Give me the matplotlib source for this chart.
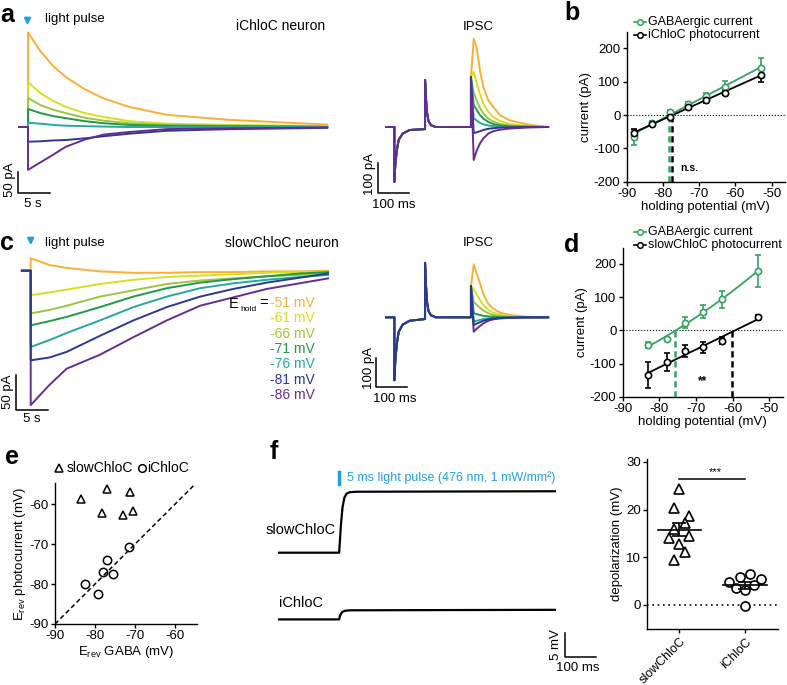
import numpy as np
import matplotlib
matplotlib.use("Agg")
import matplotlib.pyplot as plt

plt.rcParams['font.family'] = ['Liberation Sans', 'DejaVu Sans']
plt.rcParams['mathtext.fontset'] = 'custom'
plt.rcParams['mathtext.rm'] = 'Liberation Sans'
plt.rcParams['axes.unicode_minus'] = False
plt.rcParams['font.size'] = 9.5
plt.rcParams['axes.linewidth'] = 1.0
plt.rcParams['xtick.major.width'] = 1.0
plt.rcParams['ytick.major.width'] = 1.0
plt.rcParams['xtick.major.size'] = 3
plt.rcParams['ytick.major.size'] = 3

W, H = 787, 685
FS = 9.5

# -----------------------
# data
# -----------------------
holds = ['-51 mV', '-61 mV', '-66 mV', '-71 mV', '-76 mV', '-81 mV', '-86 mV']
trace_colors = ['#F8B133', '#D8DF22', '#9DC63F', '#22984A', '#24A8A0', '#2B3990', '#662D91']

# a: iChloC photocurrents, time (s) / current (pA)
a_t = [-1.4, 0, 0, 2, 4, 6, 9, 12, 16, 22, 32, 43, 47.5]
a_I = [
    [0, 0, 225, 180, 145, 119, 90, 68, 48, 29, 17, 9, 6],
    [0, 0, 107, 80, 62, 48, 33, 24, 14, 8, 5, 3, 2],
    [0, 0, 69, 52, 41, 33, 22, 15, 9, 5, 3, 2, 1],
    [0, 0, 43, 33, 26, 21, 14, 9, 5, 3, 2, 1, 0],
    [0, 0, 10, 8, 5, 3, 2, 1, 0, 0, 0, 0, 0],
    [0, 0, -35, -34, -32, -31, -27, -22, -16, -9, -5, -3, -2],
    [0, 0, -102, -84, -66, -47, -30, -18, -12, -5, -3, -2, -1],
]

# c: slowChloC photocurrents
c_t = [-1.4, 0, 0, 3, 5.7, 11, 16.3, 21.6, 26.9, 32.2, 37.5, 42.7, 47.2]
c_I = [
    [0, 0, 18, 8, 4, -1, -3, -3, -2, -2, -1, -1, 0],
    [0, 0, -35, -31, -27, -19, -13, -9, -7, -5, -3, -2, -1],
    [0, 0, -61, -56, -50, -37, -28, -19, -14, -11, -8, -6, -4],
    [0, 0, -78, -72, -66, -52, -37, -25, -17, -12, -8, -4, -2],
    [0, 0, -109, -99, -89, -71, -52, -37, -25, -18, -13, -9, -6],
    [0, 0, -128, -124, -116, -93, -71, -52, -37, -26, -17, -10, -4],
    [0, 0, -192, -163, -140, -120, -95, -71, -50, -38, -26, -18, -11],
]

# IPSC recordings, time (ms) / current (pA)
cap_t = [0, 27, 27, 30, 35, 41, 54, 76, 126, 126, 129, 132, 137, 145, 160, 274]
a_cap_I = [0, 0, -183, -125, -77, -43, -22, -10, -7, 157, 95, 50, 20, 6, 0, 0]
c_cap_I = [0, 0, -217, -150, -90, -50, -25, -12, -6, 188, 110, 55, 22, 7, 0, 0]
stim_t = 274
a_artifact = 167
c_artifact = 108
ipsc_t = [283, 292, 303, 314, 330, 346, 368, 400, 454, 523]
a_ipsc = [
    [294, 267, 189, 133, 89, 67, 39, 22, 9, 0],
    [183, 150, 110, 78, 50, 33, 20, 10, 4, 0],
    [113, 90, 63, 45, 28, 18, 10, 5, 2, 0],
    [73, 58, 40, 28, 17, 10, 5, 2, 1, 0],
    [30, 22, 14, 9, 5, 3, 1, 0, 0, 0],
    [-20, -18, -14, -10, -6, -4, -2, -1, 0, 0],
    [-110, -80, -55, -38, -22, -14, -9, -5, -2, 0],
]
c_ipsc = [
    [183, 152, 118, 80, 46, 30, 16, 8, 2, 0],
    [97, 80, 60, 42, 26, 16, 9, 4, 1, 0],
    [53, 44, 33, 23, 14, 8, 4, 2, 0, 0],
    [14, 11, 8, 5, 3, 2, 1, 0, 0, 0],
    [-15, -12, -9, -6, -4, -2, -1, 0, 0, 0],
    [-27, -22, -17, -12, -7, -4, -2, -1, 0, 0],
    [-50, -40, -30, -21, -12, -7, -4, -2, -1, 0],
]

# b: I-V iChloC
b_v = [-88, -83, -78, -73, -68, -63, -53]
b_gaba = [-67, -23, 10, 33, 57, 83, 142]
b_gaba_err = [22, 5, 6, 6, 8, 20, 30]
b_chloc = [-53, -27, -5, 25, 45, 67, 120]
b_chloc_err = [10, 5, 5, 5, 8, 8, 22]
b_erev = [-78.3, -77.5]

# d: I-V slowChloC
d_v = [-83, -78, -73, -68, -63, -53]
d_gaba = [-44, -27, 23, 56, 93, 180]
d_gaba_err = [8, 5, 17, 20, 25, 48]
d_chloc = [-134, -96, -62, -51, -31, 39]
d_chloc_err = [40, 27, 18, 17, 10, 7]
d_erev = [-75.7, -60.1]

# e: reversal potentials
e_slow_gaba = [-83.5, -77.1, -71.2, -78.2, -72.9, -70.6]
e_slow_photo = [-58.8, -56.3, -56.9, -62.2, -62.7, -61.7]
e_i_gaba = [-71.5, -76.9, -77.9, -75.6, -82.5, -79.3]
e_i_photo = [-70.7, -74.0, -76.9, -77.6, -79.9, -82.4]

# f: current clamp traces, time (ms) / voltage (mV)
f_slow_t = [0, 194, 196, 200, 205, 211, 218, 228, 250, 890]
f_slow_v = [0, 0, 2, 6, 9.5, 11.5, 12.3, 12.6, 12.7, 12.8]
f_i_t = [0, 194, 197, 203, 212, 230, 890]
f_i_v = [0, 0, 0.8, 1.5, 1.8, 1.9, 2.0]

# f: depolarization per cell
f_groups = ['slowChloC', 'iChloC']
f_slow_dep = [24.3, 20.4, 18.7, 17.2, 16.0, 14.0, 14.4, 12.7, 11.0, 9.4]
f_slow_jit = [0, -0.08, 0.15, 0.08, -0.08, -0.16, 0.15, 0, 0.08, -0.08]
f_i_dep = [4.9, 5.9, 6.4, 5.4, 3.5, 3.1, 4.2, -0.2]
f_i_jit = [-0.25, -0.08, 0.08, 0.25, -0.14, 0, 0.13, 0]

green = '#35A262'
blue = '#1DA1E2'

fig = plt.figure(figsize=(W / 100, H / 100), dpi=100)


def px_ax(l, t, r, b):
    return fig.add_axes([l / W, 1 - b / H, (r - l) / W, (b - t) / H])


def trace_ax(box, origin, scale):
    l, t, r, b = box
    ax = px_ax(l, t, r, b)
    ax.set_xlim((l - origin[0]) / scale[0], (r - origin[0]) / scale[0])
    ax.set_ylim((origin[1] - b) / scale[1], (origin[1] - t) / scale[1])
    ax.axis('off')
    return ax


def scalebar(ax, corner, origin, scale, dx, dy):
    x = (corner[0] - origin[0]) / scale[0]
    y = (origin[1] - corner[1]) / scale[1]
    ax.plot([x, x, x + dx], [y + dy, y, y], color='k', lw=1.1, clip_on=False)


def style_ax(ax):
    ax.spines['top'].set_visible(False)
    ax.spines['right'].set_visible(False)
    ax.tick_params(direction='out', labelsize=FS, pad=1.5)


# -----------------------
# a: iChloC traces
# -----------------------
org = (28, 127); sc = (6.3, 0.42)
ax = trace_ax((10, 5, 335, 215), org, sc)
for I, col in zip(a_I, trace_colors):
    ax.plot(a_t, I, color=col, lw=1.4)
scalebar(ax, (18.3, 193.3), org, sc, 5, 50)

org = (386, 127); sc = (0.31, 0.30)
ax = trace_ax((360, 20, 560, 215), org, sc)
for I, col in zip(a_ipsc, trace_colors):
    ax.plot(cap_t + [stim_t] + ipsc_t, a_cap_I + [a_artifact] + I, color=col, lw=1.4)
scalebar(ax, (378.3, 193.3), org, sc, 100, 100)

# -----------------------
# c: slowChloC traces
# -----------------------
order = [0, 1, 2, 3, 4, 6, 5]
org = (30.7, 270.7); sc = (6.3, 0.70)
ax = trace_ax((10, 225, 340, 425), org, sc)
for k in order:
    ax.plot(c_t, c_I[k], color=trace_colors[k], lw=1.4)
scalebar(ax, (16, 410), org, sc, 5, 50)

org = (386, 317.3); sc = (0.31, 0.29)
ax = trace_ax((360, 230, 560, 410), org, sc)
for k in order:
    ax.plot(cap_t + [stim_t] + ipsc_t, c_cap_I + [c_artifact] + c_ipsc[k], color=trace_colors[k], lw=1.4)
scalebar(ax, (376, 387), org, sc, 100, 100)

# -----------------------
# b / d: I-V curves
# -----------------------
def iv_panel(box, xlim, ylim, v, gaba, gerr, chl, cerr, erev, deg_g):
    ax = px_ax(*box)
    style_ax(ax)
    ax.axhline(0, color='k', ls=':', lw=0.8)
    vv = np.linspace(min(v), max(v), 50)
    ax.plot(vv, np.polyval(np.polyfit(v, gaba, deg_g), vv), color=green, lw=1.3)
    ax.plot(vv, np.polyval(np.polyfit(v, chl, 1), vv), color='k', lw=1.3)
    ax.errorbar(v, gaba, yerr=gerr, fmt='o', ms=4.5, mfc='white', mec=green, mew=1.2,
                ecolor=green, elinewidth=1.2, capsize=2, zorder=3)
    ax.errorbar(v, chl, yerr=cerr, fmt='o', ms=4.5, mfc='white', mec='k', mew=1.2,
                ecolor='k', elinewidth=1.2, capsize=2, zorder=3)
    ax.plot([erev[0]] * 2, [ylim[0], 0], color=green, ls='--', lw=1.8, dashes=(2.5, 1.5))
    ax.plot([erev[1]] * 2, [ylim[0], 0], color='k', ls='--', lw=1.8, dashes=(2.5, 1.5))
    ax.set_xlim(*xlim)
    ax.set_ylim(*ylim)
    ax.set_xticks([-90, -80, -70, -60, -50])
    ax.set_yticks([-200, -100, 0, 100, 200])
    ax.set_xlabel('holding potential (mV)', fontsize=FS, labelpad=1)
    ax.set_ylabel('current (pA)', fontsize=FS, labelpad=1)
    return ax


iv_panel((626.7, 31.7, 785, 181.7), (-90, -46.3), (-200, 250),
         b_v, b_gaba, b_gaba_err, b_chloc, b_chloc_err, b_erev, 1)
iv_panel((622.7, 248, 783, 396.7), (-90, -46.3), (-200, 248),
         d_v, d_gaba, d_gaba_err, d_chloc, d_chloc_err, d_erev, 2)

# -----------------------
# e: Erev scatter
# -----------------------
ax = px_ax(55, 483.3, 196.7, 624)
style_ax(ax)
ax.plot([-90, -55], [-90, -55], color='k', ls='--', lw=1.1, dashes=(3, 2))
ax.plot(e_slow_gaba, e_slow_photo, '^', ms=5.5, mfc='none', mec='k', mew=1.1, clip_on=False)
ax.plot(e_i_gaba, e_i_photo, 'o', ms=6, mfc='none', mec='k', mew=1.1, clip_on=False)
ax.set_xlim(-90, -54.6)
ax.set_ylim(-90, -54.8)
ax.set_xticks([-90, -80, -70, -60])
ax.set_yticks([-90, -80, -70, -60])
ax.set_xlabel(r'E$_{\mathrm{rev}}$ GABA (mV)', fontsize=FS, labelpad=1)
ax.set_ylabel(r'E$_{\mathrm{rev}}$ photocurrent (mV)', fontsize=FS, labelpad=1)

# -----------------------
# f: current clamp traces
# -----------------------
org = (279, 552.7); sc = (0.31, 4.8)
i_offset = -13.9
ax = trace_ax((270, 470, 620, 680), org, sc)
ax.plot(f_slow_t, f_slow_v, color='k', lw=1.6)
ax.plot(f_i_t, np.array(f_i_v) + i_offset, color='k', lw=1.6)
scalebar(ax, (565, 657), org, sc, 100, 5)

# f: depolarization scatter
ax = px_ax(647.3, 459, 778.3, 629.3)
style_ax(ax)
ax.axhline(0, color='k', ls=(0, (1, 2.2)), lw=1.2)
ax.plot(np.array(f_slow_jit), f_slow_dep, '^', ms=6.5, mfc='white', mec='k', mew=1.2)
ax.plot(1 + np.array(f_i_jit), f_i_dep, 'o', ms=6.5, mfc='white', mec='k', mew=1.2)
for x, vals in zip([0, 1], [f_slow_dep, f_i_dep]):
    m = np.mean(vals)
    s = np.std(vals, ddof=1) / np.sqrt(len(vals))
    ax.plot([x - 0.33, x + 0.33], [m, m], color='k', lw=1.2)
    ax.errorbar([x], [m], yerr=[s], fmt='none', ecolor='k', elinewidth=1.2, capsize=5, capthick=1.2)
ax.plot([0, 1], [26.5, 26.5], color='k', lw=1.1)
ax.text(0.55, 26.8, '***', ha='center', va='bottom', fontsize=8)
ax.set_xlim(-0.487, 1.507)
ax.set_ylim(-5.1, 30.6)
ax.set_yticks([0, 10, 20, 30])
ax.set_xticks([0, 1])
ax.set_xticklabels(f_groups, rotation=45, ha='right', rotation_mode='anchor', fontsize=9)
ax.set_ylabel('depolarization (mV)', fontsize=FS, labelpad=2)

# -----------------------
# overlay: labels and annotations
# -----------------------
ov = fig.add_axes([0, 0, 1, 1], zorder=10)
ov.set_xlim(0, W)
ov.set_ylim(H, 0)
ov.axis('off')

for s, x, y in [('a', 0, 15), ('b', 564, 13), ('c', 0, 243), ('d', 564, 245),
                ('e', 5, 457), ('f', 270, 452)]:
    ov.text(x, y, s, fontsize=18, weight='bold', va='center', ha='left')

for x, y in [(27.5, 28), (30.7, 248)]:
    ov.annotate('', xy=(x, y), xytext=(x, y - 11),
                arrowprops=dict(arrowstyle='-|>', color=blue, lw=1.6, mutation_scale=9))
ov.text(45, 18.5, 'light pulse', fontsize=FS, va='center')
ov.text(45, 243, 'light pulse', fontsize=FS, va='center')
ov.text(236, 26, 'iChloC neuron', fontsize=10, va='center')
ov.text(339, 243, 'slowChloC neuron', fontsize=10, va='center', ha='right')
ov.text(478, 27, 'IPSC', fontsize=FS, va='center', ha='center')
ov.text(478, 243, 'IPSC', fontsize=FS, va='center', ha='center')

# scale bar labels
ov.text(10, 180, '50 pA', rotation=90, fontsize=FS, ha='center', va='center')
ov.text(33, 204, '5 s', fontsize=FS, ha='center', va='center')
ov.text(370, 174, '100 pA', rotation=90, fontsize=FS, ha='center', va='center')
ov.text(394, 205, '100 ms', fontsize=FS, ha='center', va='center')
ov.text(8, 392, '50 pA', rotation=90, fontsize=FS, ha='center', va='center')
ov.text(32, 419, '5 s', fontsize=FS, ha='center', va='center')
ov.text(369, 368, '100 pA', rotation=90, fontsize=FS, ha='center', va='center')
ov.text(395, 399, '100 ms', fontsize=FS, ha='center', va='center')
ov.text(556, 645, '5 mV', rotation=90, fontsize=FS, ha='center', va='center')
ov.text(578, 668, '100 ms', fontsize=FS, ha='center', va='center')

# E_hold legend
ov.text(229, 304, 'E', fontsize=10.5, va='center')
ov.text(240, 309, 'hold', fontsize=6, va='center')
ov.text(259, 303, '=', fontsize=10.5, va='center')
for i, (lab, col) in enumerate(zip(holds, trace_colors)):
    ov.text(270, 303 + i * 15.3, lab, color=col, fontsize=10, va='center')

# b / d legends
for y0, labels in [(21.7, ['GABAergic current', 'iChloC photocurrent']),
                   (231.7, ['GABAergic current', 'slowChloC photocurrent'])]:
    for j, (lab, col) in enumerate(zip(labels, [green, 'k'])):
        y = y0 + j * 13.3
        ov.plot([634, 646], [y, y], color=col, lw=1.2)
        ov.plot([640], [y], 'o', ms=4, mfc='white', mec=col, mew=1.1)
        ov.text(648, y, lab, fontsize=9, va='center')

ov.text(680, 168, 'n.s.', fontsize=7.5, weight='bold', va='center')
ov.text(703, 381, '**', fontsize=8.5, weight='bold', va='center', ha='center')

# e legend
ov.plot([59], [467.7], '^', ms=5.5, mfc='none', mec='k', mew=1.1)
ov.text(67, 467.7, 'slowChloC', fontsize=10, va='center')
ov.plot([142], [467.7], 'o', ms=5.5, mfc='none', mec='k', mew=1.1)
ov.text(147, 467.7, 'iChloC', fontsize=10, va='center')

# f labels
ov.plot([339, 339], [472, 484], color=blue, lw=2.5)
ov.text(347, 478, '5 ms light pulse (476 nm, 1 mW/mm²)', color=blue, fontsize=9, va='center')
ov.text(266, 530, 'slowChloC', fontsize=10.5, va='center')
ov.text(279, 603, 'iChloC', fontsize=10.5, va='center')

fig.savefig('out.png', dpi=100)
